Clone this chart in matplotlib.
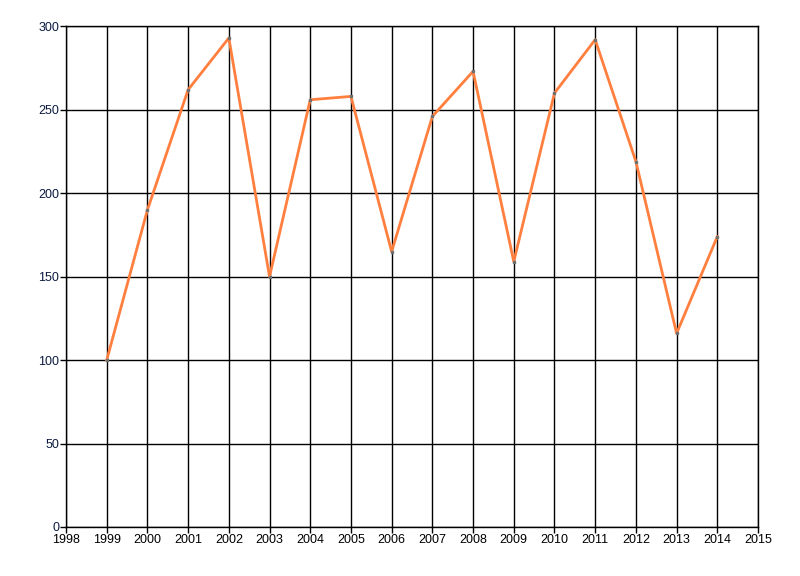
import matplotlib
matplotlib.use("Agg")
import matplotlib.pyplot as plt

years = [1999, 2000, 2001, 2002, 2003, 2004, 2005, 2006, 2007, 2008,
         2009, 2010, 2011, 2012, 2013, 2014]
values = [100, 190, 262, 293, 150, 256, 258, 165, 246, 273,
          159, 260, 292, 219, 116, 174]

x_ticks = list(range(1998, 2016))
y_ticks = [0, 50, 100, 150, 200, 250, 300]

plt.rcParams['font.family'] = ['Liberation Sans Narrow', 'Liberation Sans', 'DejaVu Sans']

fig = plt.figure(figsize=(8, 5.76), dpi=100)
ax = fig.add_axes([0.0825, 0.0851, 0.865, 0.8692])

ax.plot(years, values, color='#FF7F3F', linewidth=2, zorder=3)
ax.plot(years, values, linestyle='none', marker='s', markersize=1.5,
        color='#707070', zorder=4)

ax.set_xlim(1998, 2015)
ax.set_ylim(0, 300)
ax.set_xticks(x_ticks)
ax.set_yticks(y_ticks)
ax.set_xticklabels([str(v) for v in x_ticks])
ax.grid(True, color='black', linewidth=1)
ax.set_axisbelow(True)
for s in ax.spines.values():
    s.set_color('black')
    s.set_linewidth(1)
ax.tick_params(axis='both', direction='out', length=4, width=1,
               colors='black', labelsize=9, pad=1)
for lbl in ax.get_yticklabels():
    lbl.set_color('#0a1a40')

fig.savefig('out.png', dpi=100)
